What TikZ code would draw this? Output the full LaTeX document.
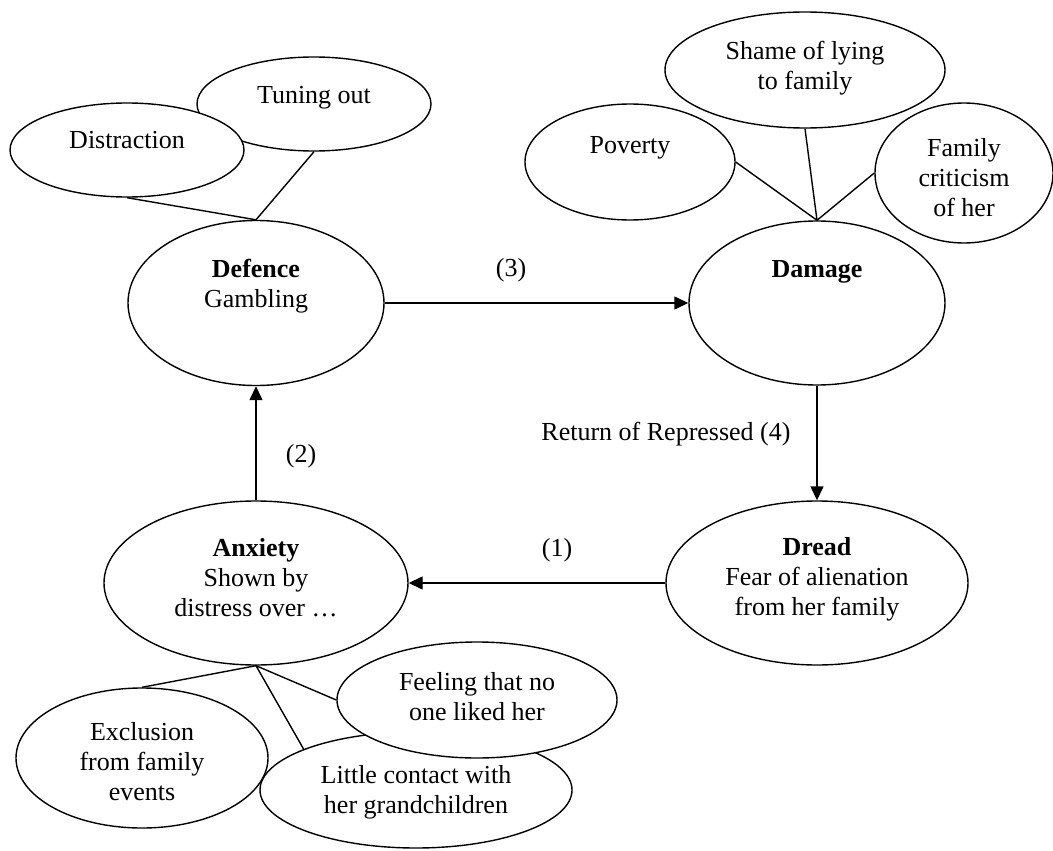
\documentclass[tikz,border=0pt]{standalone}
\usepackage{fontspec}
\setmainfont{Liberation Serif}
\usetikzlibrary{shapes.geometric,arrows.meta}
\newcommand{\bubtext}[1]{\begin{tabular}[t]{@{}c@{}}#1\end{tabular}}

\begin{document}
\begin{tikzpicture}[x=1pt, y=-1pt, line width=1.4pt, font=\fontsize{26}{30}\selectfont,
		bubble/.style n args={3}{draw, shape=ellipse, fill=white, inner sep=0pt, minimum width=#1pt, minimum height=#2pt, text height=0pt, text depth=#3pt},
		tag/.style={inner sep=0pt},
		flow/.style={-{Triangle[width=13pt,length=14pt]}}]
		\useasboundingbox (0,0) rectangle (1053,851);

		\path (314,104) node[bubble={234}{94}{2}] (tuning) {Tuning out}
		(127,150) node[bubble={234}{94}{4}] (distraction) {Distraction}
		(256,303) node[bubble={256}{165}{52}] (defence) {\bubtext{\textbf{Defence}\\Gambling}}
		(630,162) node[bubble={210}{116}{18}] (poverty) {Poverty}
		(805,70) node[bubble={280}{116}{20}] (shame) {\bubtext{Shame of lying\\to family}}
		(964,173) node[bubble={178}{140}{34}] (family) {\bubtext{Family\\criticism\\of her}}
		(817,303) node[bubble={256}{164}{52}] (damage) {\textbf{Damage}}
		(256,583) node[bubble={304}{164}{54}] (anxiety) {\bubtext{\textbf{Anxiety}\\Shown by\\distress over …}}
		(817,583) node[bubble={302}{164}{56}] (dread) {\bubtext{\textbf{Dread}\\Fear of alienation\\from her family}}
		(142,758) node[bubble={252}{140}{36}] (exclusion) {\bubtext{Exclusion\\from family\\events}}
		(416,790) node[bubble={312}{116}{14}] (little) {\bubtext{Little contact with\\her grandchildren}}
		(477,700) node[bubble={280}{116}{20}] (feeling) {\bubtext{Feeling that no\\one liked her}};

		\path (511,270) node[tag] (l3) {(3)}
		(301,456) node[tag] (l2) {(2)}
		(557,550) node[tag] (l1) {(1)}
		(666,434) node[tag] (l4) {Return of Repressed (4)};

		\draw (distraction.south) -- (defence.north)
		(tuning.south) -- (defence.north)
		(poverty.east) -- (damage.north)
		(shame.south) -- (damage.north)
		(family.west) -- (damage.north)
		(anxiety.south) -- (exclusion.north)
		(anxiety.south) -- (little.160)
		(anxiety.south) -- (feeling.west);

		\draw[flow] (defence.east) -- (damage.west);
		\draw[flow] (damage.south) -- (dread.north);
		\draw[flow] (dread.west) -- (anxiety.east);
		\draw[flow] (anxiety.north) -- (defence.south);

	\end{tikzpicture}
\end{document}
